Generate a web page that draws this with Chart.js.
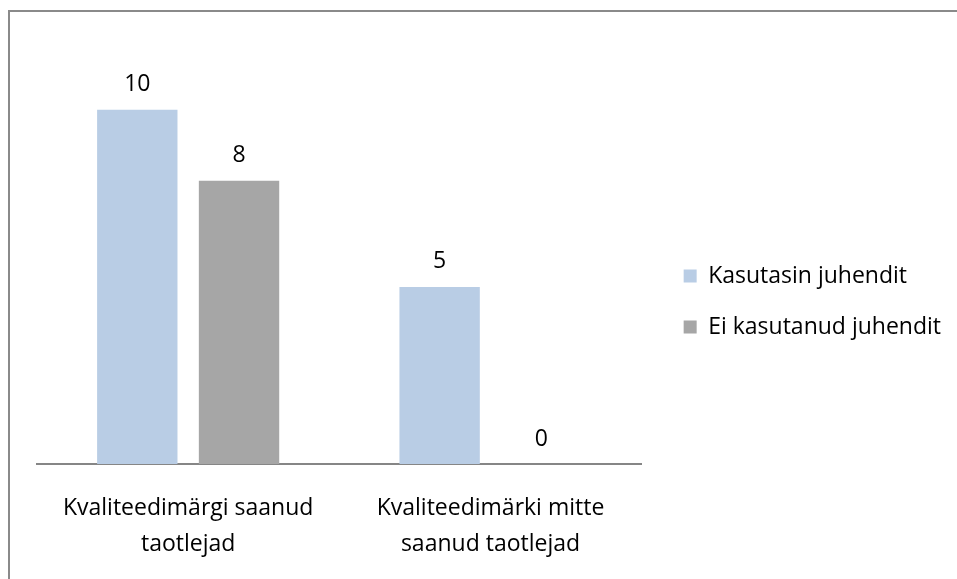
<!DOCTYPE html>
<html lang="et">
<head>
  <meta charset="UTF-8">
  <title>Kvaliteedimärk ja juhend</title>
  <script src="https://cdn.jsdelivr.net/npm/chart.js"></script>
  <style>
    html, body { margin: 0; padding: 0; background: #fff; overflow: hidden; }
    #frame { position: absolute; left: 8px; top: 10px; width: 1000px; height: 700px; border: 2px solid #8a8a8a; box-sizing: border-box; }
    #wrap { position: absolute; left: 0; top: 0; width: 957px; height: 579px; }
  </style>
</head>
<body>
  <div id="frame"></div>
  <div id="wrap"><canvas id="chart" width="957" height="579"></canvas></div>
  <script>
    const categories = [['Kvaliteedimärgi saanud', 'taotlejad'], ['Kvaliteedimärki mitte', 'saanud taotlejad']];
    const seriesNames = ['Kasutasin juhendit', 'Ei kasutanud juhendit'];
    const usedGuide = [10, 5];
    const notUsedGuide = [8, 0];

    Chart.defaults.font.family = '"Open Sans", sans-serif';
    Chart.defaults.font.size = 23;
    Chart.defaults.color = '#000';

    // value labels above each bar
    const valueLabels = {
      id: 'valueLabels',
      afterDatasetsDraw(chart) {
        const ctx = chart.ctx;
        ctx.save();
        ctx.font = '23px "Open Sans", sans-serif';
        ctx.fillStyle = '#000';
        ctx.textAlign = 'center';
        ctx.textBaseline = 'middle';
        chart.data.datasets.forEach((ds, i) => {
          chart.getDatasetMeta(i).data.forEach((bar, j) => {
            ctx.fillText(String(ds.data[j]), bar.x, bar.y - 25);
          });
        });
        ctx.restore();
      }
    };

    // the legend would otherwise be squeezed to a quarter of the width
    const wideLegend = {
      id: 'wideLegend',
      afterInit(chart) {
        const lg = chart.legend;
        const orig = lg.update;
        lg.update = function (maxWidth, maxHeight, margins) {
          return orig.call(this, 400, maxHeight, margins);
        };
      }
    };

    new Chart(document.getElementById('chart'), {
      type: 'bar',
      data: {
        labels: categories,
        datasets: [
          { label: seriesNames[0], data: usedGuide, backgroundColor: '#b9cde5' },
          { label: seriesNames[1], data: notUsedGuide, backgroundColor: '#a6a6a6' }
        ]
      },
      options: {
        responsive: false,
        animation: false,
        layout: { padding: { left: 37, top: 39, right: 6, bottom: 15 } },
        datasets: { bar: { categoryPercentage: 0.673, barPercentage: 0.79 } },
        scales: {
          x: {
            grid: { display: false, drawTicks: false },
            border: { color: '#868686', width: 2 },
            ticks: { padding: 27, maxRotation: 0, font: { size: 23, lineHeight: 1.55 } },
            afterFit: s => { s.height = 100; }
          },
          y: {
            position: 'right',
            min: 0,
            max: 12,
            grid: { display: false, drawTicks: false },
            border: { display: false },
            ticks: { display: false },
            afterFit: s => { s.width = 14; }
          }
        },
        plugins: {
          legend: {
            position: 'right',
            labels: { boxWidth: 13, boxHeight: 13, padding: 28, font: { size: 23 } }
          },
          tooltip: { enabled: false }
        }
      },
      plugins: [valueLabels, wideLegend]
    });
  </script>
</body>
</html>
